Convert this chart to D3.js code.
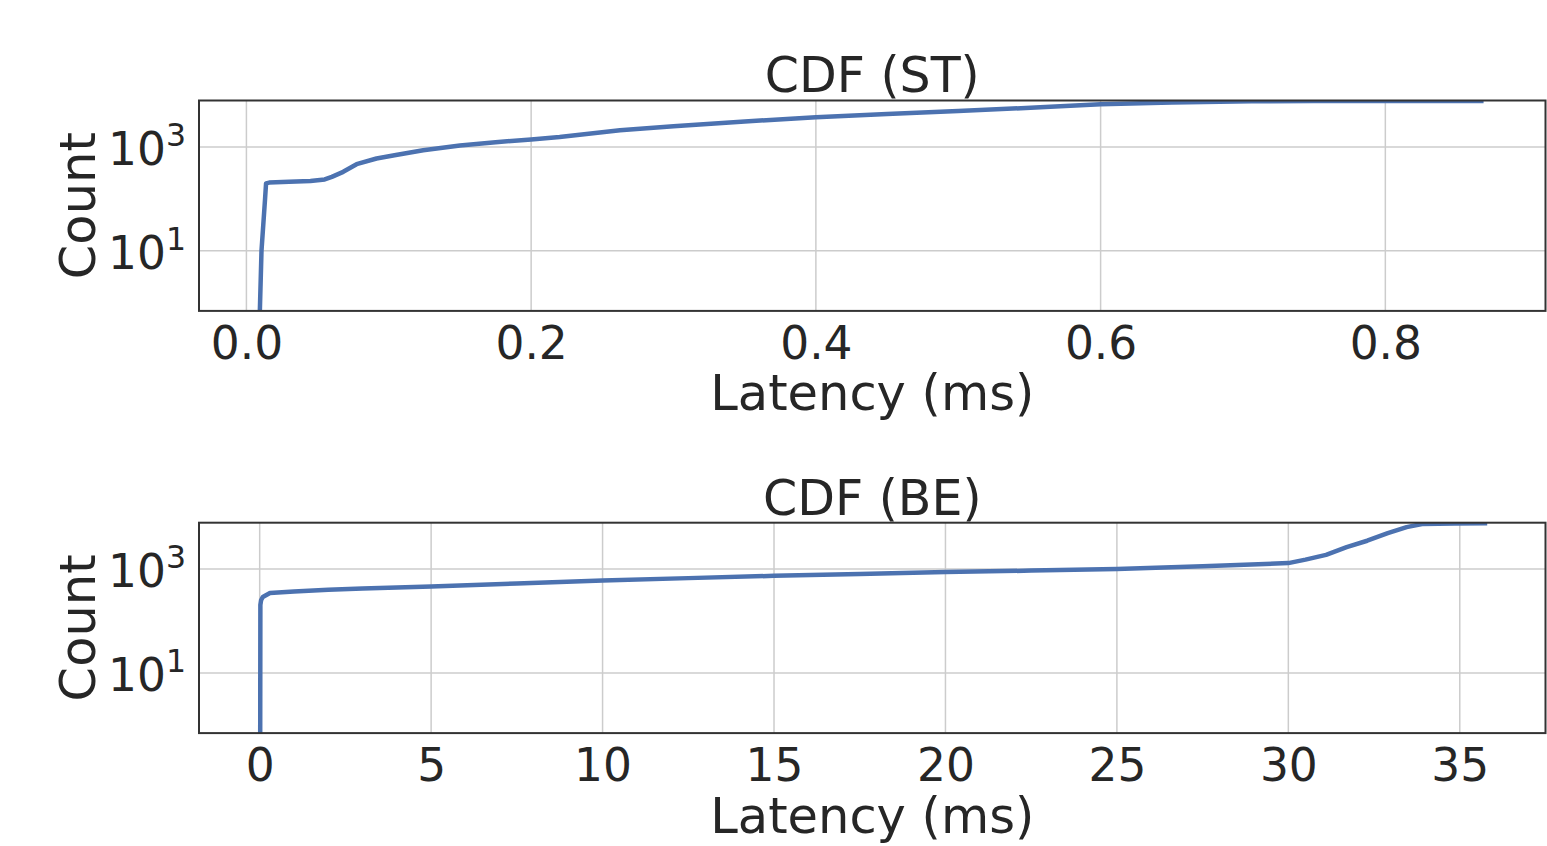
<!doctype html>
<html lang="en">
<head>
    <meta charset="UTF-8">
    <title>CDF latency</title>
    <script src="https://cdnjs.cloudflare.com/ajax/libs/d3/7.8.5/d3.min.js"></script>
    <style>
        body { margin: 0; background: #fff; }
        text { font-family: "DejaVu Sans", sans-serif; fill: #262626; }
    </style>
</head>
<body>
<svg id="chart" width="1547" height="846"></svg>

<script>

    // ---- data ----
    // ST panel: latency (ms) vs cumulative count
    var stLatency = [0.0093, 0.0106, 0.0131, 0.0138, 0.016, 0.030, 0.045, 0.055, 0.060, 0.068, 0.0774,
        0.0914, 0.105, 0.1242, 0.15, 0.175, 0.2, 0.22, 0.2624, 0.30, 0.35, 0.4, 0.45, 0.5, 0.5576,
        0.6, 0.65, 0.706, 0.75, 0.80, 0.869];
    var stCount = [0.5, 10, 100, 198, 205, 212, 220, 236, 265, 331, 464,
        598, 700, 864, 1060, 1230, 1390, 1550, 2100, 2500, 3100, 3725, 4300, 4900, 5800,
        6600, 7150, 7600, 7630, 7650, 7660];

    // BE panel
    var beLatency = [0.015, 0.02, 0.04, 0.09, 0.3, 1, 2, 3, 5, 7.5, 10, 12.5, 15, 17.5, 20, 22.5,
        25, 27.5, 30, 30.5, 31.1, 31.7, 32.3, 32.9, 33.45, 33.9, 34.85, 35.8];
    var beCount = [0.5, 205, 250, 290, 345, 370, 400, 425, 463, 530, 604, 670, 742, 805, 875, 935,
        1000, 1130, 1305, 1520, 1880, 2640, 3520, 4920, 6450, 7400, 7600, 7650];

    var stTicks = [0.0, 0.2, 0.4, 0.6, 0.8];
    var beTicks = [0, 5, 10, 15, 20, 25, 30, 35];
    var yTickExp = [1, 3];

    // ---- layout ----
    var left = 199, right = 1545.5;
    var panelH = 210.4;
    var yDomain = [Math.pow(10, -0.16), Math.pow(10, 3.894)];

    var svg = d3.select('#chart');

    drawPanel({
        id: 'st', top: 100.5, title: 'CDF (ST)',
        xDomain: [-0.0333, 0.9125], ticks: stTicks, fmt: d3.format('.1f'),
        xs: stLatency, ys: stCount
    });

    drawPanel({
        id: 'be', top: 522.7, title: 'CDF (BE)',
        xDomain: [-1.77, 37.5], ticks: beTicks, fmt: d3.format('d'),
        xs: beLatency, ys: beCount
    });


    function drawPanel(cfg) {

        var top = cfg.top, bottom = cfg.top + panelH;

        var x = d3.scaleLinear().domain(cfg.xDomain).range([left, right]);
        var y = d3.scaleLog().domain(yDomain).range([bottom, top]);

        var g = svg.append('g');

        // grid
        g.selectAll('line.vgrid')
            .data(cfg.ticks)
            .enter().append('line')
            .attr('class', 'vgrid')
            .attr('x1', function (d) { return x(d); })
            .attr('x2', function (d) { return x(d); })
            .attr('y1', top).attr('y2', bottom)
            .attr('stroke', '#cccccc').attr('stroke-width', 1.5);

        g.selectAll('line.hgrid')
            .data(yTickExp)
            .enter().append('line')
            .attr('class', 'hgrid')
            .attr('x1', left).attr('x2', right)
            .attr('y1', function (d) { return y(Math.pow(10, d)); })
            .attr('y2', function (d) { return y(Math.pow(10, d)); })
            .attr('stroke', '#cccccc').attr('stroke-width', 1.5);

        // curve, clipped to the axes box
        svg.append('clipPath').attr('id', 'clip-' + cfg.id)
            .append('rect')
            .attr('x', left).attr('y', top)
            .attr('width', right - left).attr('height', panelH);

        var pts = cfg.xs.map(function (v, i) { return [v, cfg.ys[i]]; });

        var line = d3.line()
            .x(function (d) { return x(d[0]); })
            .y(function (d) { return y(d[1]); });

        g.append('path')
            .datum(pts)
            .attr('clip-path', 'url(#clip-' + cfg.id + ')')
            .attr('d', line)
            .attr('fill', 'none')
            .attr('stroke', '#4c72b0')
            .attr('stroke-width', 4.5)
            .attr('stroke-linejoin', 'round');

        // spines
        g.append('rect')
            .attr('x', left).attr('y', top)
            .attr('width', right - left).attr('height', panelH)
            .attr('fill', 'none')
            .attr('stroke', '#333333')
            .attr('stroke-width', 2);

        // x axis
        var xAxis = d3.axisBottom(x)
            .tickValues(cfg.ticks)
            .tickFormat(cfg.fmt)
            .tickSize(0)
            .tickPadding(16);

        var ax = g.append('g')
            .attr('transform', 'translate(0,' + bottom + ')')
            .call(xAxis);
        ax.select('.domain').remove();
        ax.selectAll('text')
            .attr('font-size', 45.5)
            .attr('font-family', '"DejaVu Sans", sans-serif')
            .attr('fill', '#262626');

        // y tick labels: 10^n
        var yl = g.selectAll('text.ylab')
            .data(yTickExp)
            .enter().append('text')
            .attr('class', 'ylab')
            .attr('x', left - 13)
            .attr('y', function (d) { return y(Math.pow(10, d)) + 18; })
            .attr('text-anchor', 'end');
        yl.append('tspan').attr('font-size', 45.5).text('10');
        yl.append('tspan').attr('font-size', 31.5).attr('dy', -19)
            .text(function (d) { return d; });

        // title
        g.append('text')
            .attr('x', (left + right) / 2)
            .attr('y', top - 8.2)
            .attr('text-anchor', 'middle')
            .attr('font-size', 49)
            .text(cfg.title);

        // x label
        g.append('text')
            .attr('x', (left + right) / 2)
            .attr('y', bottom + 99.5)
            .attr('text-anchor', 'middle')
            .attr('font-size', 49.5)
            .text('Latency (ms)');

        // y label
        g.append('text')
            .attr('transform', 'translate(95,' + ((top + bottom) / 2) + ') rotate(-90)')
            .attr('text-anchor', 'middle')
            .attr('font-size', 49.5)
            .text('Count');
    }

</script>
</body>
</html>
